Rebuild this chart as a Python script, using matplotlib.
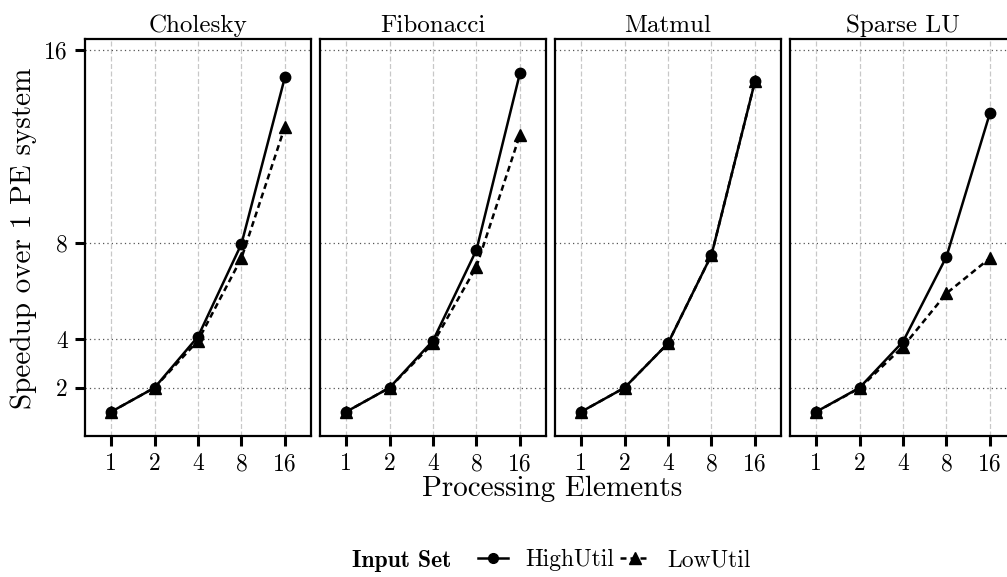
import matplotlib
matplotlib.use("Agg")
import matplotlib.pyplot as plt
from matplotlib.lines import Line2D

plt.rcParams['font.family'] = ['cmr10', 'DejaVu Serif']
plt.rcParams['axes.formatter.use_mathtext'] = True

benchmarks = ["Cholesky", "Fibonacci", "Matmul", "Sparse LU"]
pes = [1, 2, 4, 8, 16]
high_util = {
    "Cholesky":  [1.0, 2.0, 4.12, 7.96, 14.87],
    "Fibonacci": [1.0, 2.0, 3.95, 7.71, 15.03],
    "Matmul":    [1.0, 2.0, 3.84, 7.50, 14.69],
    "Sparse LU": [1.0, 2.0, 3.91, 7.43, 13.38],
}
low_util = {
    "Cholesky":  [1.0, 2.0, 3.95, 7.37, 12.82],
    "Fibonacci": [1.0, 2.0, 3.84, 7.02, 12.48],
    "Matmul":    [1.0, 2.0, 3.84, 7.50, 14.69],
    "Sparse LU": [1.0, 1.98, 3.70, 5.91, 7.37],
}
y_ticks = [2, 4, 8, 16]

W, H = 1007, 577
fig = plt.figure(figsize=(W / 100, H / 100), dpi=100)

LW = 1.8
DASH = (0, (2.4, 1.6))

left0, pw, gap = 85, 226, 9
top, bottom = 39, 436
for i, b in enumerate(benchmarks):
    l = left0 + i * (pw + gap)
    ax = fig.add_axes([l / W, 1 - bottom / H, pw / W, (bottom - top) / H])
    ax.set_xscale('log', base=2)
    ax.set_xlim(2 ** -0.6, 2 ** 4.6)
    ax.set_ylim(0, 16.45)
    ax.set_xticks(pes)
    ax.set_xticklabels([str(p) for p in pes])
    ax.minorticks_off()
    ax.set_yticks(y_ticks)
    if i == 0:
        ax.set_yticklabels([str(t) for t in y_ticks])
    else:
        ax.tick_params(axis='y', left=False, labelleft=False)
    ax.grid(axis='x', color='#c8c8c8', linestyle=(0, (4, 2)), linewidth=0.9)
    ax.grid(axis='y', color='#555555', linestyle=(0, (1, 2.5)), linewidth=0.9)
    ax.set_axisbelow(True)
    for s in ax.spines.values():
        s.set_linewidth(1.6)
        s.set_color('black')
    ax.tick_params(axis='both', direction='out', length=7.5, width=2.2,
                   labelsize=17, pad=5, color='black')
    ax.plot(pes, high_util[b], color='black', linestyle='-', linewidth=LW,
            marker='o', markersize=7.5, zorder=3)
    ax.plot(pes, low_util[b], color='black', linestyle=DASH, linewidth=LW,
            marker='^', markersize=9, zorder=3)
    ax.set_title(b, fontsize=18, pad=5)

fig.text(552 / W, 1 - 489 / H, "Processing Elements", ha='center', va='center',
         fontsize=21)
fig.text(24 / W, 1 - 238 / H, "Speedup over 1 PE system", ha='center', va='center',
         rotation=90, fontsize=21)

fig.text(352 / W, 1 - 561 / H, "Input Set", ha='left', va='center',
         fontsize=17, family='cmb10')
handles = [
    Line2D([], [], color='black', linestyle='-', linewidth=LW, marker='o', markersize=7),
    Line2D([], [], color='black', linestyle=DASH, linewidth=LW, marker='^', markersize=8),
]
labels = ["HighUtil", "LowUtil"]
leg = fig.legend(handles, labels, loc='center left', bbox_to_anchor=(478 / W, 1 - 560 / H),
                 ncol=2, frameon=False, fontsize=17, handlelength=1.25,
                 handletextpad=0.75, columnspacing=0.25, borderpad=0, borderaxespad=0)

fig.savefig("out.png", dpi=100)
